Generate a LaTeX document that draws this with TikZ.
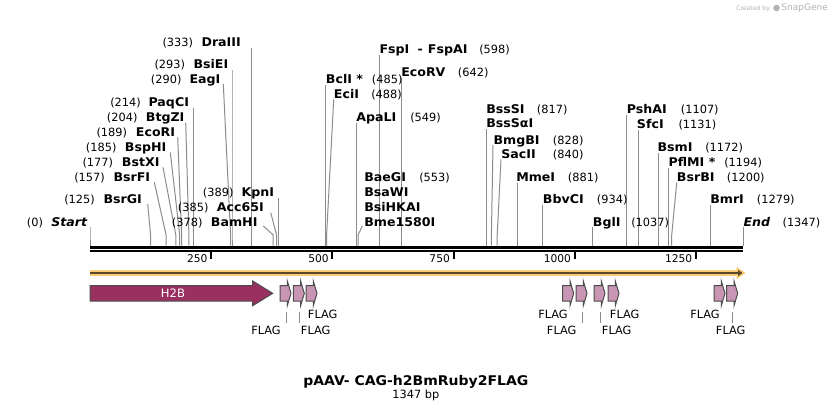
\documentclass[tikz,border=0pt]{standalone}
\usepackage{fontspec}
\setmainfont{DejaVu Sans}
\newfontfamily\enzfam[FakeStretch=1.05]{DejaVu Sans}
\usetikzlibrary{arrows.meta}
\definecolor{siteln}{HTML}{8C8C8C}
\definecolor{h2bfill}{HTML}{993060}
\definecolor{flagfill}{HTML}{C896B4}
\definecolor{featln}{HTML}{4D4D4D}
\definecolor{orangeband}{HTML}{FACB74}
\definecolor{darkarrow}{HTML}{5A4628}
\definecolor{wmark}{HTML}{B4B4B4}
\tikzset{
  siteline/.style={draw=siteln, line width=0.75pt},
  enz/.style={anchor=base west, inner sep=0pt, font=\enzfam\bfseries\fontsize{9}{10}\selectfont},
  enzit/.style={anchor=base west, inner sep=0pt, font=\enzfam\bfseries\itshape\fontsize{9}{10}\selectfont},
  num/.style={anchor=base west, inner sep=0pt, font=\fontsize{8.5}{10}\selectfont},
  ticklbl/.style={anchor=base east, inner sep=0pt, font=\fontsize{8}{10}\selectfont},
  flaglbl/.style={anchor=center, inner sep=0pt, font=\fontsize{8.5}{10}\selectfont},
  flagshape/.style={draw=featln, fill=flagfill, line width=0.75pt, line join=miter},
  h2bshape/.style={draw=featln, fill=h2bfill, line width=0.75pt, line join=miter},
  flagtick/.style={draw=siteln, line width=0.75pt},
}
\newcommand\sitecut[4]{%
  \coordinate (t#1) at (#3,#4);
  \coordinate (k#1) at (#2,235);
  \coordinate (c#1) at (#2,245.7);
  \draw[siteline] (t#1) -- (k#1) -- (c#1);}
% left labels: id, num x, name x, y, num, name
\newcommand\enzL[6]{%
  \node[num] (n#1) at (#2,#4+4.3) {#5};
  \node[enz] (e#1) at (#3,#4+4.3) {#6};}
% right labels: id, name x, num x, y, name, num
\newcommand\enzR[6]{%
  \node[enz] (e#1) at (#2,#4+4.3) {#5};
  \node[num] (n#1) at (#3,#4+4.3) {#6};}
\newcommand\flagat[2]{%
  \draw[flagshape] (#2,285.7) -- ++(7.3,0) -- ++(0,-4.7) -- ++(3.7,12.3)
    -- ++(-3.7,12.4) -- ++(0,-4.7) -- ++(-7.3,0) -- cycle;
  \coordinate (f#1) at (#2,293.3);}
\begin{document}
\begin{tikzpicture}[x=0.75pt,y=-0.75pt]
\path[use as bounding box, fill=white] (0,0) rectangle (834,412);

% watermark
\node[anchor=base west, inner sep=0pt, text=wmark, font=\fontsize{4.6}{5}\selectfont] (wm1) at (736,10) {Created by};
\fill[wmark] (776.5,8) circle (3.3);
\node[anchor=base west, inner sep=0pt, text=wmark, font=\fontsize{6.8}{8}\selectfont] (wm2) at (781,10.5) {SnapGene};

% cut lines
\sitecut{0}{90}{90}{227}
\sitecut{125}{150.6}{147.7}{204}
\sitecut{157}{166.1}{154.3}{182.3}
\sitecut{177}{175.8}{163}{167.3}
\sitecut{185}{179.7}{170.3}{152.3}
\sitecut{189}{181.6}{177.7}{137.3}
\sitecut{204}{188.9}{185.7}{122.7}
\sitecut{214}{193.7}{193.7}{108.3}
\sitecut{290}{230.6}{223.3}{84}
\sitecut{293}{232.0}{232.0}{70}
\sitecut{333}{251.4}{251.4}{48.3}
\sitecut{378}{273.2}{263.3}{226}
\sitecut{385}{276.6}{270.7}{212.7}
\sitecut{389}{278.6}{278.6}{198.3}
\sitecut{485}{325.1}{325.1}{85}
\sitecut{488}{326.6}{333.7}{99.3}
\sitecut{549}{356.1}{356.1}{123.3}
\sitecut{553}{358.1}{362.3}{226}
\sitecut{598}{379.9}{379.9}{55}
\sitecut{642}{401.2}{401.2}{78}
\sitecut{817}{486.1}{486.1}{129.3}
\sitecut{828}{491.4}{493}{145}
\sitecut{840}{497.2}{501}{159.3}
\sitecut{881}{517.1}{517.1}{183.3}
\sitecut{934}{542.8}{542.8}{205}
\sitecut{1037}{592.7}{592.7}{226.7}
\sitecut{1107}{626.6}{626.6}{115}
\sitecut{1131}{638.3}{638.3}{130}
\sitecut{1172}{658.2}{658.2}{153.3}
\sitecut{1194}{668.8}{668.8}{167.7}
\sitecut{1200}{671.7}{676.7}{182.7}
\sitecut{1279}{710}{710}{205}
\sitecut{1347}{743}{743}{227.3}

% left labels
\node[num] (n0) at (26.7,221.7+4.3) {(0)};
\node[enzit] (e0) at (51,221.7+4.3) {Start};
\enzL{125}{64}{103.3}{199}{(125)}{BsrGI}
\enzL{157}{74}{113.3}{176.7}{(157)}{BsrFI}
\enzL{177}{82.3}{121.7}{162.3}{(177)}{BstXI}
\enzL{185}{85.7}{124.7}{147.3}{(185)}{BspHI}
\enzL{189}{96.3}{135.7}{131.7}{(189)}{EcoRI}
\enzL{204}{106.7}{145.7}{117}{(204)}{BtgZI}
\enzL{214}{110}{148.3}{101.7}{(214)}{PaqCI}
\enzL{290}{150.7}{189.3}{79}{(290)}{EagI}
\enzL{293}{154.3}{193.3}{64}{(293)}{BsiEI}
\enzL{333}{162.3}{201.3}{42.3}{(333)}{DraIII}
\enzL{389}{202.7}{241.3}{192.3}{(389)}{KpnI}
\enzL{385}{177.7}{216.7}{206.7}{(385)}{Acc65I}
\enzL{378}{171.7}{210.7}{222.3}{(378)}{BamHI}

% middle labels
\node[enz] (e598) at (379.3,49+4.3) {FspI};
\node[enz] (e598d) at (417.3,49+4.3) {-};
\node[enz] (e598b) at (427.7,49+4.3) {FspAI};
\node[num] (n598) at (479,49+4.3) {(598)};
\enzR{485}{325.7}{371.7}{79}{BclI *}{(485)}
\enzR{642}{401}{457.7}{71.7}{EcoRV}{(642)}
\enzR{488}{333.7}{371}{94}{EciI}{(488)}
\enzR{549}{356}{410}{117.3}{ApaLI}{(549)}
\enzR{553}{364}{419}{176.7}{BaeGI}{(553)}
\node[enz] (e553b) at (364,192.3+4.3) {BsaWI};
\node[enz] (e553c) at (364,206.7+4.3) {BsiHKAI};
\node[enz] (e553d) at (364,222.3+4.3) {Bme1580I};

% right labels
\enzR{817}{486}{536.7}{109}{BssSI}{(817)}
\node[enz] (e817b) at (486,123.3+4.3) {BssSαI};
\enzR{828}{493.3}{552.7}{140}{BmgBI}{(828)}
\enzR{840}{501}{552.7}{154}{SacII}{(840)}
\enzR{881}{516}{567.7}{177.3}{MmeI}{(881)}
\enzR{934}{542.7}{596.7}{199}{BbvCI}{(934)}
\enzR{1037}{592.7}{631}{222.3}{BglI}{(1037)}
\enzR{1107}{626.7}{680.7}{109}{PshAI}{(1107)}
\enzR{1131}{636.7}{678.3}{124}{SfcI}{(1131)}
\enzR{1172}{657.3}{705}{147.3}{BsmI}{(1172)}
\enzR{1194}{668.3}{724}{161.7}{PflMI *}{(1194)}
\enzR{1200}{676.7}{726.7}{177.3}{BsrBI}{(1200)}
\enzR{1279}{710}{756.7}{199}{BmrI}{(1279)}
\node[enzit] (e1347) at (743.3,222.3+4.3) {End};
\node[num] (n1347) at (782.3,222.3+4.3) {(1347)};

% axis
\coordinate (axL) at (90,247.2);
\coordinate (axR) at (743,247.2);
\draw[line width=2.25pt] (axL) -- (axR);
\draw[line width=1.7pt] (90,250.9) -- (743,250.9);
\foreach \t in {250,500,750,1000,1250}{
  \draw[line width=1.4pt] ({90+\t*0.484781},252) -- ++(0,7);
  \node[ticklbl] (tk\t) at ({90+\t*0.484781-3.5},262.3) {\t};
}

% orange direction arrow
\fill[orangeband] (90,270) rectangle (737.5,276);
\fill[orangeband] (736.5,266.7) -- (745.5,273) -- (736.5,279.3) -- cycle;
\fill[darkarrow] (90,272) rectangle (739,274);
\fill[darkarrow] (738,269.8) -- (742.5,273) -- (738,276.2) -- cycle;

% H2B
\draw[h2bshape] (90,285.7) -- (252.7,285.7) -- (252.7,281) -- (272.7,293.3)
  -- (252.7,305.7) -- (252.7,301) -- (90,301) -- cycle;
\node[anchor=center, inner sep=0pt, text=white, font=\fontsize{8.7}{10}\selectfont] (h2b) at (173,293.3) {H2B};

% FLAG features
\flagat{1}{280}
\flagat{2}{293.3}
\flagat{3}{306}
\flagat{4}{562.7}
\flagat{5}{576}
\flagat{6}{594}
\flagat{7}{608}
\flagat{8}{714}
\flagat{9}{726.7}

\foreach \i/\x in {a/286.7,b/299.3,c/582.7,d/600,e/732.3}{
  \coordinate (ft\i1) at (\x,312);
  \coordinate (ft\i2) at (\x,323);
  \draw[flagtick] (ft\i1) -- (ft\i2);
}
\node[flaglbl] (fl1) at (266,330.7) {FLAG};
\node[flaglbl] (fl2) at (315.7,330.7) {FLAG};
\node[flaglbl] (fl3) at (322.7,314) {FLAG};
\node[flaglbl] (fl4) at (553,314) {FLAG};
\node[flaglbl] (fl5) at (561.7,330.7) {FLAG};
\node[flaglbl] (fl6) at (624.7,314) {FLAG};
\node[flaglbl] (fl7) at (616.7,330.7) {FLAG};
\node[flaglbl] (fl8) at (705,314) {FLAG};
\node[flaglbl] (fl9) at (730.7,330.7) {FLAG};

% title
\node[anchor=base, inner sep=0pt, font=\enzfam\bfseries\fontsize{10}{12}\selectfont] (title) at (415.8,380.7+4.8) {pAAV- CAG-h2BmRuby2FLAG};
\node[anchor=base, inner sep=0pt, font=\fontsize{8.5}{10}\selectfont] (bp) at (415.8,394+4.2) {1347 bp};
\end{tikzpicture}
\end{document}
